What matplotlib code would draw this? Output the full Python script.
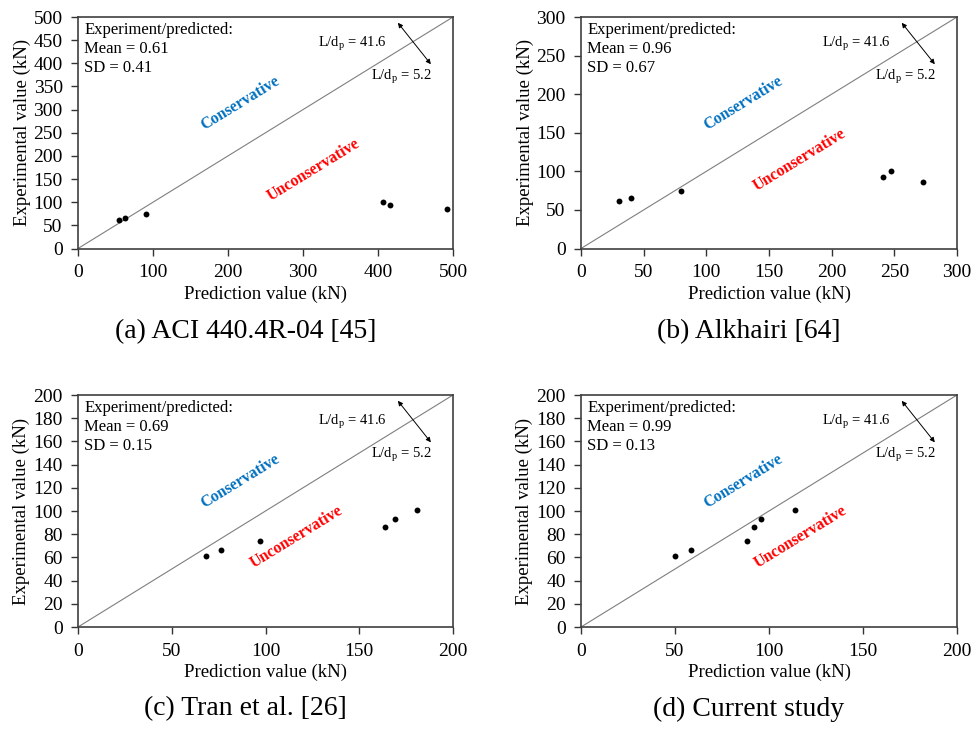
import matplotlib
matplotlib.use("Agg")
import matplotlib.pyplot as plt

plt.rcParams['font.family'] = ['Liberation Serif', 'DejaVu Serif']
plt.rcParams['mathtext.fontset'] = 'custom'
plt.rcParams['mathtext.rm'] = 'Liberation Serif'
plt.rcParams['mathtext.it'] = 'Liberation Serif:italic'

# Experimental capacities (kN), common to all models
experimental = [61, 66, 74, 101, 93, 86]

# Predicted capacities (kN) for each model, same specimen order as above
pred_aci = [54, 63, 90, 407, 416, 492]
pred_alkhairi = [30, 40, 80, 247, 241, 273]
pred_tran = [68.5, 76.5, 97, 181, 169, 163.5]
pred_current = [50, 58.5, 88.5, 114, 95.5, 92]

captions = ["(a) ACI 440.4R-04 [45]", "(b) Alkhairi [64]",
            "(c) Tran et al. [26]", "(d) Current study"]
means = ["0.61", "0.96", "0.69", "0.99"]
sds = ["0.41", "0.67", "0.15", "0.13"]
axis_max = [500, 300, 200, 200]
x_step = [100, 50, 50, 50]
y_step = [50, 50, 20, 20]
uncons_pos = [(0.627, 0.338), (0.582, 0.381), (0.584, 0.387), (0.584, 0.387)]

predictions = [pred_aci, pred_alkhairi, pred_tran, pred_current]

W, H = 971, 735
fig = plt.figure(figsize=(W / 100, H / 100), dpi=100)

# axes boxes in pixels: left, top, right, bottom
boxes = [(78, 17, 453, 248.5), (581, 17, 957, 248.5),
         (78, 395, 453, 627), (581, 395, 957, 627)]
caption_y = [332, 709]

for i, (l, t, r, b) in enumerate(boxes):
    ax = fig.add_axes([l / W, 1 - b / H, (r - l) / W, (b - t) / H])
    m = axis_max[i]
    ax.set_xlim(0, m)
    ax.set_ylim(0, m)
    ax.set_xticks(range(0, m + 1, x_step[i]))
    ax.set_yticks(range(0, m + 1, y_step[i]))
    ax.tick_params(direction='out', length=5, width=1, labelsize=14,
                   colors='#333333', labelcolor='black')
    ax.tick_params(axis='x', pad=6.5)
    ax.tick_params(axis='y', pad=6)
    for s in ax.spines.values():
        s.set_color('#404040')
        s.set_linewidth(1.2)

    # 1:1 reference line
    ax.plot([0, m], [0, m], color='#7f7f7f', lw=0.8, zorder=1)
    ax.scatter(predictions[i], experimental, s=18, color='black', zorder=3,
               linewidths=0)

    ax.set_xlabel("Prediction value (kN)", fontsize=13.5, labelpad=3)
    ax.set_ylabel("Experimental value (kN)", fontsize=13.5, labelpad=2)

    ax.text(0.017, 0.943, "Experiment/predicted:", transform=ax.transAxes,
            fontsize=12, va='center', ha='left')
    ax.text(0.017, 0.861, f"Mean = {means[i]}", transform=ax.transAxes,
            fontsize=12, va='center', ha='left')
    ax.text(0.017, 0.779, f"SD = {sds[i]}", transform=ax.transAxes,
            fontsize=12, va='center', ha='left')

    ax.text(0.432, 0.628, "Conservative", transform=ax.transAxes,
            fontsize=11.5, fontweight='bold', color='#0070C0',
            rotation=31.5, ha='center', va='center', rotation_mode='anchor')
    ux, uy = uncons_pos[i]
    ax.text(ux, uy, "Unconservative", transform=ax.transAxes,
            fontsize=11.5, fontweight='bold', color='#FF0000',
            rotation=31.5, ha='center', va='center', rotation_mode='anchor')

    ax.text(0.824, 0.885, r"L/d$_{\mathregular{p}}$ = 41.6",
            transform=ax.transAxes, fontsize=10.5, ha='right', va='center')
    ax.text(0.944, 0.742, r"L/d$_{\mathregular{p}}$ = 5.2",
            transform=ax.transAxes, fontsize=10.5, ha='right', va='center')
    ax.annotate("", xy=(0.853, 0.975), xytext=(0.941, 0.796),
                xycoords='axes fraction', textcoords='axes fraction',
                arrowprops=dict(arrowstyle='<|-|>', color='black', lw=0.7,
                                mutation_scale=7, shrinkA=0, shrinkB=0))

    cx = ((l + r) / 2 - 20) / W
    cy = 1 - caption_y[i // 2] / H
    fig.text(cx, cy, captions[i], fontsize=20, ha='center', va='center')

fig.savefig("out.png", dpi=100, facecolor='white')
